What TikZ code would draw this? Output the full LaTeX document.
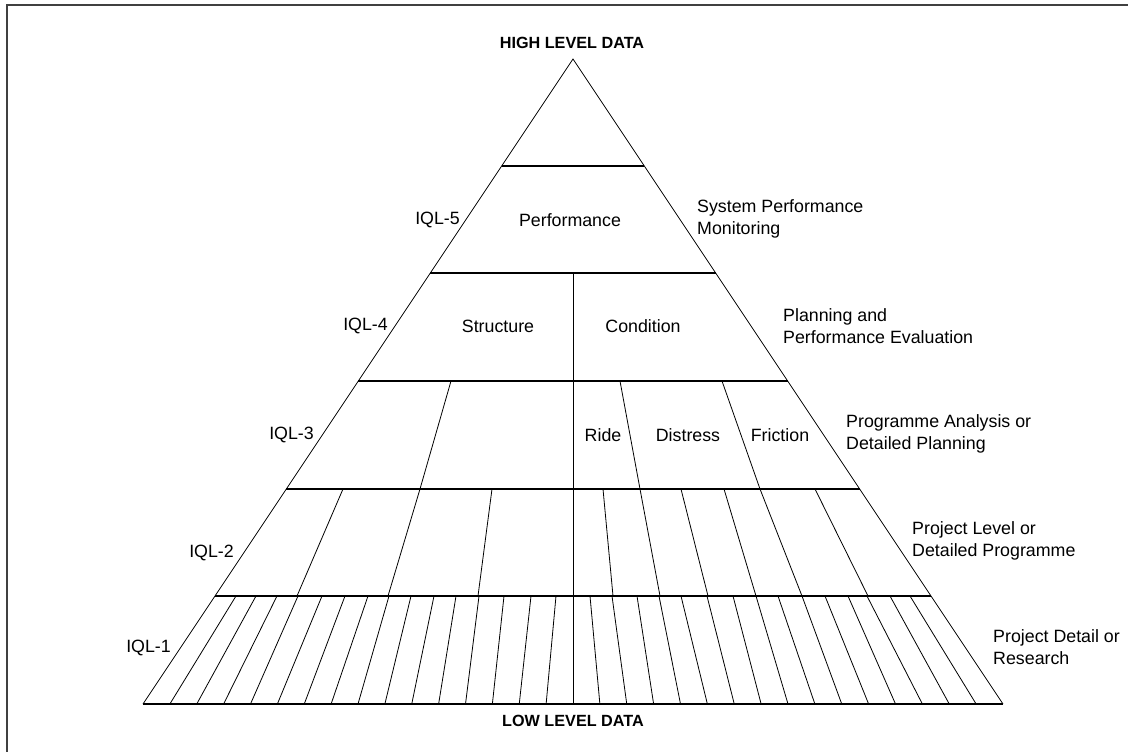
\documentclass[tikz,border=0pt]{standalone}
\usepackage{fontspec}
\setmainfont{Liberation Sans}
\usepackage{tikz}

\tikzset{
  lbl/.style={font=\fontsize{17.8}{21.5}\selectfont, inner sep=0pt, align=left},
  endlbl/.style={font=\fontsize{16.2}{19}\selectfont\bfseries, inner sep=0pt},
  band/.style={line width=1.1pt},
  cut/.style={line width=0.8pt}
}

\begin{document}
\begin{tikzpicture}[x=1pt, y=-1pt]
                \useasboundingbox (0,0) rectangle (1128,752);
                \draw[line width=2pt, black!75] (7,752) -- (7,5) -- (1128,5);

                \coordinate (apex) at (573,59);
                \coordinate (baseL) at (143,704);
                \coordinate (baseR) at (1003,704);

                % outline
                \draw[cut] (baseL) -- (apex) -- (baseR);
                \draw[band] (baseL) -- (baseR);

                % bands
                \draw[band] (501.7,166) -- (644.3,166);
                \draw[band] (430.3,273) -- (715.7,273);
                \draw[band] (358.3,381) -- (787.7,381);
                \draw[band] (286.3,489) -- (859.7,489);
                \draw[band] (215,596) -- (931,596);
                \draw[cut] (573,273) -- (573,704);

                % IQL-3 cells
                \foreach \t/\b in {451/420, 620/640, 722/760}
                  \draw[cut] (\t,381) -- (\b,489);

                % IQL-2 cells
                \foreach \t/\b in {343/297, 420/388, 492/478, 603/613, 640/660, 681/708, 724/756, 760/802, 815/868}
                  \draw[cut] (\t,489) -- (\b,596);

                % IQL-1 cells
                \foreach \t [count=\k] in {236, 256, 277, 298, 322, 345, 368, 389, 411, 434, 456, 479, 504, 531, 556}
                  \draw[cut] (\t,596) -- ({143+\k*26.875},704);
                \foreach \t [count=\k] in {590, 612, 637, 659, 681, 707, 733, 756, 778, 802, 825, 848, 867, 890, 910}
                  \draw[cut] (\t,596) -- ({573+\k*26.875},704);

                \node[endlbl] (high) at (572,43) {HIGH LEVEL DATA};
                \node[endlbl] (low) at (573,721) {LOW LEVEL DATA};

                \node[lbl] (perf) at (570,220) {Performance};
                \node[lbl] (struct) at (498,326) {Structure};
                \node[lbl] (cond) at (643,326) {Condition};
                \node[lbl] (ride) at (603,435) {Ride};
                \node[lbl] (distress) at (688,435) {Distress};
                \node[lbl] (friction) at (780,435) {Friction};

                \node[lbl, anchor=east] (iql5) at (460,220) {IQL-5};
                \node[lbl, anchor=east] (iql4) at (388,326) {IQL-4};
                \node[lbl, anchor=east] (iql3) at (314,435) {IQL-3};
                \node[lbl, anchor=east] (iql2) at (234,553) {IQL-2};
                \node[lbl, anchor=east] (iql1) at (171,648) {IQL-1};

                \node[lbl, anchor=west] (use5) at (697,219) {System Performance\\Monitoring};
                \node[lbl, anchor=west] (use4) at (783,326) {Planning and\\Performance Evaluation};
                \node[lbl, anchor=west] (use3) at (846,434) {Programme Analysis or\\Detailed Planning};
                \node[lbl, anchor=west] (use2) at (912,541) {Project Level or\\Detailed Programme};
                \node[lbl, anchor=west] (use1) at (993,647) {Project Detail or\\Research};
            \end{tikzpicture}
\end{document}
